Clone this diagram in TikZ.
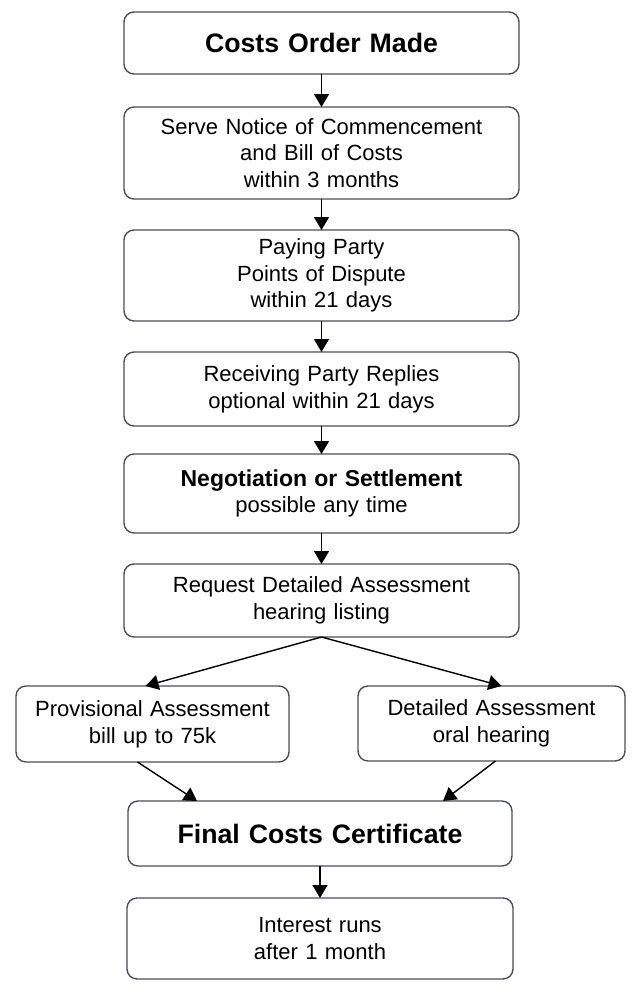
\documentclass[tikz,border=0pt]{standalone}
\usepackage{fontspec}
\setmainfont{Liberation Sans}
\usepackage{tikz}
\usetikzlibrary{shapes,arrows.meta,positioning}
\definecolor{boxedge}{HTML}{4A4F55}
\tikzstyle{block} = [rectangle, draw=boxedge, line width=1.4pt, text width=375pt,
    inner xsep=10pt, inner ysep=0pt, outer sep=0pt, text centered, rounded corners=10pt,
    font=\fontsize{22}{26.7}\selectfont]
\tikzstyle{headblock} = [block, font=\bfseries\fontsize{26.7}{32}\selectfont]
\tikzstyle{line} = [draw, line width=1.4pt, -{Triangle[length=13pt,width=15pt]}]

\begin{document}
\begin{tikzpicture}[node distance = 31pt, auto]
    \useasboundingbox (0,0) rectangle (643pt,-997pt);
    % Place nodes
    \node [headblock, minimum height=62pt] (order) at (321.5pt,-43pt) {Costs Order Made};
    \node [block, below=33pt of order, minimum height=92pt] (notice) {Serve Notice of Commencement\\and Bill of Costs\\within 3 months};
    \node [block, below=31pt of notice, minimum height=91pt] (dispute) {Paying Party\\Points of Dispute\\within 21 days};
    \node [block, below=31pt of dispute, minimum height=74pt] (replies) {Receiving Party Replies\\optional within 21 days};
    \node [block, below=28pt of replies, minimum height=79pt] (settle) {{\bfseries\fontsize{23}{26.7}\selectfont Negotiation or Settlement}\\possible any time};
    \node [block, below=31pt of settle, minimum height=73pt] (request) {Request Detailed Assessment\\hearing listing};
    \node [block, below=49pt of request, xshift=-169pt, text width=253pt, minimum height=76pt] (provisional) {Provisional Assessment\\bill up to 75k};
    \node [block, below=49pt of request, xshift=170pt, text width=247pt, minimum height=75pt] (detailed) {Detailed Assessment\\oral hearing};
    \node [headblock, below=164pt of request, xshift=-1.5pt, text width=364pt, minimum height=65pt] (final) {Final Costs Certificate};
    \node [block, below=32pt of final, text width=366pt, minimum height=81pt] (interest) {Interest runs\\after 1 month};

    % Draw edges
    \path [line] (order) -- (notice);
    \path [line] (notice) -- (dispute);
    \path [line] (dispute) -- (replies);
    \path [line] (replies) -- (settle);
    \path [line] (settle) -- (request);
    \path [line] (request.south) -- ([xshift=-7pt]provisional.north);
    \path [line] (request.south) -- ([xshift=10pt]detailed.north);
    \path [line] ([xshift=-15pt]provisional.south) -- ([xshift=-123pt]final.north);
    \path [line] ([xshift=4pt]detailed.south) -- ([xshift=123pt]final.north);
    \path [line] (final) -- (interest);
\end{tikzpicture}
\end{document}
